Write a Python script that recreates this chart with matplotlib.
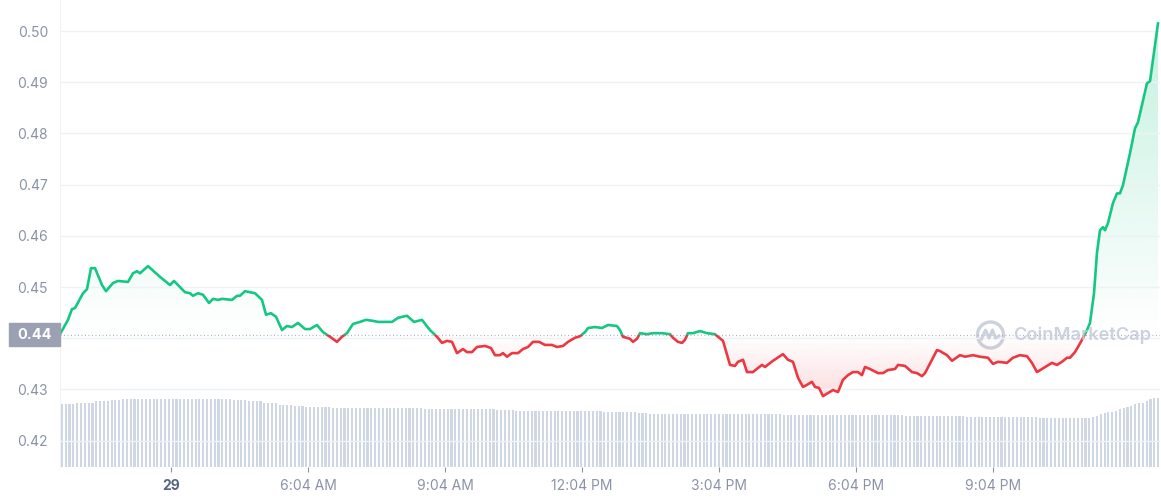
import numpy as np
import matplotlib
matplotlib.use("Agg")
import matplotlib.pyplot as plt
from matplotlib.patches import Rectangle, Circle
from matplotlib.transforms import IdentityTransform

plt.rcParams["font.family"] = ["Inter", "DejaVu Sans"]

# price line, hours since the left edge of the chart
hours = [0.0, 0.175, 0.263, 0.328, 0.504, 0.591, 0.679, 0.766, 0.920, 1.007,
         1.161, 1.270, 1.489, 1.598, 1.686, 1.752, 1.927, 2.190, 2.409, 2.496,
         2.737, 2.847, 2.912, 3.022, 3.131, 3.263, 3.350, 3.460, 3.547, 3.766,
         3.876, 3.941, 4.051, 4.160, 4.270, 4.423, 4.511, 4.620, 4.730, 4.861,
         4.970, 5.080, 5.211, 5.365, 5.474, 5.627, 5.759, 5.912, 6.065, 6.175,
         6.284, 6.416, 6.569, 6.700, 6.854, 6.963, 7.116, 7.270, 7.401, 7.598,
         7.751, 7.926, 8.102, 8.255, 8.365, 8.474, 8.583, 8.693, 8.824, 8.912,
         9.021, 9.131, 9.306, 9.437, 9.525, 9.634, 9.700, 9.788, 9.897, 10.029,
         10.138, 10.248, 10.357, 10.489, 10.620, 10.773, 10.883, 11.014, 11.124, 11.277,
         11.386, 11.496, 11.562, 11.715, 11.868, 12.000, 12.197, 12.262, 12.328, 12.481,
         12.547, 12.635, 12.700, 12.853, 12.985, 13.182, 13.357, 13.423, 13.532, 13.620,
         13.686, 13.751, 13.861, 14.014, 14.167, 14.342, 14.408, 14.518, 14.671, 14.780,
         14.846, 14.956, 15.043, 15.175, 15.284, 15.372, 15.437, 15.612, 15.831, 15.941,
         16.050, 16.160, 16.269, 16.357, 16.466, 16.532, 16.620, 16.707, 16.817, 16.926,
         17.036, 17.145, 17.255, 17.364, 17.474, 17.561, 17.627, 17.736, 17.912, 18.021,
         18.131, 18.284, 18.350, 18.503, 18.656, 18.766, 18.875, 18.941, 19.094, 19.204,
         19.269, 19.423, 19.532, 19.707, 19.817, 19.992, 20.145, 20.320, 20.430, 20.539,
         20.736, 20.867, 21.021, 21.174, 21.283, 21.393, 21.502, 21.612, 21.721, 21.831,
         21.940, 22.050, 22.116, 22.225, 22.291, 22.379, 22.488, 22.554, 22.642, 22.707,
         22.773, 22.838, 22.882, 22.948, 23.057, 23.145, 23.210, 23.276, 23.429, 23.539,
         23.605, 23.802, 23.868, 24.043]
price = [0.4408, 0.4436, 0.4457, 0.4459, 0.4488, 0.4496, 0.4537, 0.4537, 0.4504, 0.4492,
         0.4508, 0.4512, 0.4510, 0.4527, 0.4531, 0.4527, 0.4541, 0.4520, 0.4504, 0.4512,
         0.4490, 0.4488, 0.4483, 0.4488, 0.4485, 0.4469, 0.4477, 0.4475, 0.4477, 0.4475,
         0.4483, 0.4483, 0.4492, 0.4490, 0.4488, 0.4475, 0.4446, 0.4449, 0.4442, 0.4416,
         0.4424, 0.4422, 0.4430, 0.4418, 0.4418, 0.4426, 0.4412, 0.4403, 0.4393, 0.4403,
         0.4410, 0.4428, 0.4432, 0.4436, 0.4434, 0.4432, 0.4432, 0.4432, 0.4440, 0.4444,
         0.4432, 0.4436, 0.4416, 0.4403, 0.4391, 0.4395, 0.4393, 0.4371, 0.4379, 0.4373,
         0.4373, 0.4383, 0.4385, 0.4381, 0.4367, 0.4367, 0.4371, 0.4364, 0.4371, 0.4371,
         0.4379, 0.4383, 0.4393, 0.4393, 0.4387, 0.4387, 0.4383, 0.4385, 0.4393, 0.4401,
         0.4404, 0.4412, 0.4420, 0.4422, 0.4420, 0.4426, 0.4424, 0.4416, 0.4403, 0.4399,
         0.4393, 0.4399, 0.4410, 0.4408, 0.4410, 0.4410, 0.4408, 0.4401, 0.4393, 0.4391,
         0.4397, 0.4410, 0.4410, 0.4414, 0.4410, 0.4408, 0.4403, 0.4395, 0.4348, 0.4346,
         0.4354, 0.4358, 0.4334, 0.4334, 0.4342, 0.4348, 0.4344, 0.4356, 0.4369, 0.4358,
         0.4354, 0.4323, 0.4305, 0.4309, 0.4315, 0.4305, 0.4303, 0.4287, 0.4293, 0.4299,
         0.4295, 0.4319, 0.4328, 0.4334, 0.4334, 0.4328, 0.4344, 0.4340, 0.4332, 0.4332,
         0.4338, 0.4340, 0.4348, 0.4346, 0.4334, 0.4332, 0.4326, 0.4332, 0.4358, 0.4377,
         0.4375, 0.4367, 0.4356, 0.4367, 0.4364, 0.4367, 0.4364, 0.4362, 0.4350, 0.4354,
         0.4352, 0.4362, 0.4367, 0.4365, 0.4352, 0.4334, 0.4340, 0.4346, 0.4352, 0.4348,
         0.4354, 0.4362, 0.4362, 0.4373, 0.4383, 0.4397, 0.4416, 0.4430, 0.4488, 0.4567,
         0.4611, 0.4617, 0.4611, 0.4625, 0.4664, 0.4683, 0.4683, 0.4699, 0.4761, 0.4810,
         0.4822, 0.4898, 0.4902, 0.5015]
ref_price = 0.4407          # opening price, dotted line
ref_label = "0.44"

# volume bars (relative heights), 288 five-minute bars: runs of equal height + rising tail
vol_levels = [63.5, 64.5, 66, 67, 68, 67, 66, 64, 62, 61, 60, 59, 58, 57, 56, 55.5, 54.5,
              53, 52, 51, 50.3, 49]
vol_counts = [4, 5, 4, 3, 29, 4, 4, 4, 4, 3, 7, 24, 19, 5, 23, 9, 3, 35, 32, 16, 19, 14]
vol_tail = [50.3, 51, 52.7, 53.7, 54.7, 55.3, 56.3, 57.7, 58.7, 60, 61.3, 63, 64, 64,
            66, 67.7, 68.7, 69.3]

y_ticks = [0.42, 0.43, 0.44, 0.45, 0.46, 0.47, 0.48, 0.49, 0.50]
x_tick_labels = ["29", "6:04 AM", "9:04 AM", "12:04 PM", "3:04 PM", "6:04 PM", "9:04 PM"]
first_tick_h = 2.43

GREEN = "#16c784"
RED = "#ea3943"
GRID = "#eff2f5"
TXT = "#8a93a6"
BAR = "#cfd6e4"
X_MAX = 24.087
Y_MIN, Y_MAX = 0.41486, 0.50607

fig = plt.figure(figsize=(11.61, 5), dpi=100)
rect = [60 / 1161, 33 / 500, 1100 / 1161, 467 / 500]

# volume underneath
vax = fig.add_axes(rect, zorder=0)
vol = np.concatenate([np.repeat(vol_levels, vol_counts), vol_tail])
n = len(vol)
step = X_MAX / n
vax.bar((np.arange(n) + 0.5) * step, vol, width=step * 0.55, color=BAR, linewidth=0)
vax.set_xlim(0, X_MAX)
vax.set_ylim(0, 467)
vax.axis("off")

ax = fig.add_axes(rect, zorder=1)
ax.patch.set_visible(False)
ax.set_xlim(0, X_MAX)
ax.set_ylim(Y_MIN, Y_MAX)

xs = np.array(hours)
ps = np.array(price)

# gradient fills between line and the reference price
poly = ax.fill_between(xs, ps, ref_price, facecolor="none", edgecolor="none")
clip = poly.get_paths()[0]
for col, lo, hi, a_lo, a_hi in [(GREEN, ref_price, Y_MAX, 0.0, 0.27),
                                (RED, Y_MIN, ref_price, 0.36, 0.0)]:
    grad = np.zeros((256, 1, 4))
    grad[..., :3] = matplotlib.colors.to_rgb(col)
    grad[:, 0, 3] = np.linspace(a_lo, a_hi, 256)
    im = ax.imshow(grad, extent=[0, X_MAX, lo, hi], origin="lower", aspect="auto",
                   interpolation="bilinear", zorder=1)
    im.set_clip_path(clip, ax.transData)

# line, green above / red below the reference
for col, y0 in [(GREEN, ref_price), (RED, ref_price - 1)]:
    ln, = ax.plot(xs, ps, color=col, lw=1.9, solid_joinstyle="round", zorder=3)
    ln.set_clip_path(Rectangle((0, y0), X_MAX, 1, transform=ax.transData))

ax.axhline(ref_price, color="#aab2c2", lw=0.9, ls=(0, (0.8, 2.0)), zorder=2)

# axes styling; the 0.44 tick label sits under the price tag
ax.set_yticks(y_ticks)
ax.set_yticklabels(["" if f"{v:.2f}" == ref_label else f"{v:.2f}" for v in y_ticks])
ax.yaxis.grid(True, color=GRID, lw=1)
ax.tick_params(axis="y", length=0, pad=8.6, labelsize=10, labelcolor=TXT)
ax.set_xticks([first_tick_h + 3 * i for i in range(len(x_tick_labels))])
ax.set_xticklabels(x_tick_labels)
ax.tick_params(axis="x", length=3.6, width=0.8, color="#8a93a6", pad=5,
               labelsize=10, labelcolor=TXT)
ax.get_xticklabels()[0].set_fontweight("bold")
ax.get_xticklabels()[0].set_color("#58667e")
for s in ["top", "right", "bottom"]:
    ax.spines[s].set_visible(False)
ax.spines["left"].set_color(GRID)

# reference price tag on the left
tag_h = 0.00225
ax.add_patch(Rectangle((-51 / 1100, ref_price - tag_h), 51 / 1100, 2 * tag_h,
                       transform=ax.get_yaxis_transform(), clip_on=False,
                       color="#9ba1b2", zorder=5))
ax.text(-25.5 / 1100, ref_price, ref_label, transform=ax.get_yaxis_transform(),
        ha="center", va="center", color="white", fontsize=10.5, fontweight="bold",
        zorder=6)

# watermark
wm = "#c3cad8"
fig.add_artist(Circle((990.5, 165), 13, transform=IdentityTransform(), fill=False,
                      lw=2.4, ec=wm, alpha=0.85))
wx = np.array([-9, -5, -1.5, 2, 5, 8.5])
wy = np.array([-4, 5, -3, 5, -3, -1])
fig.add_artist(plt.Line2D(990.5 + wx, 165 + wy, transform=IdentityTransform(),
                          color=wm, lw=2.2, alpha=0.85, solid_joinstyle="round"))
fig.text(1013 / 1161, 165 / 500, "CoinMarketCap", ha="left", va="center", fontsize=13.2,
         fontweight="semibold", color=wm, alpha=0.85)

fig.savefig("out.png", dpi=100)
